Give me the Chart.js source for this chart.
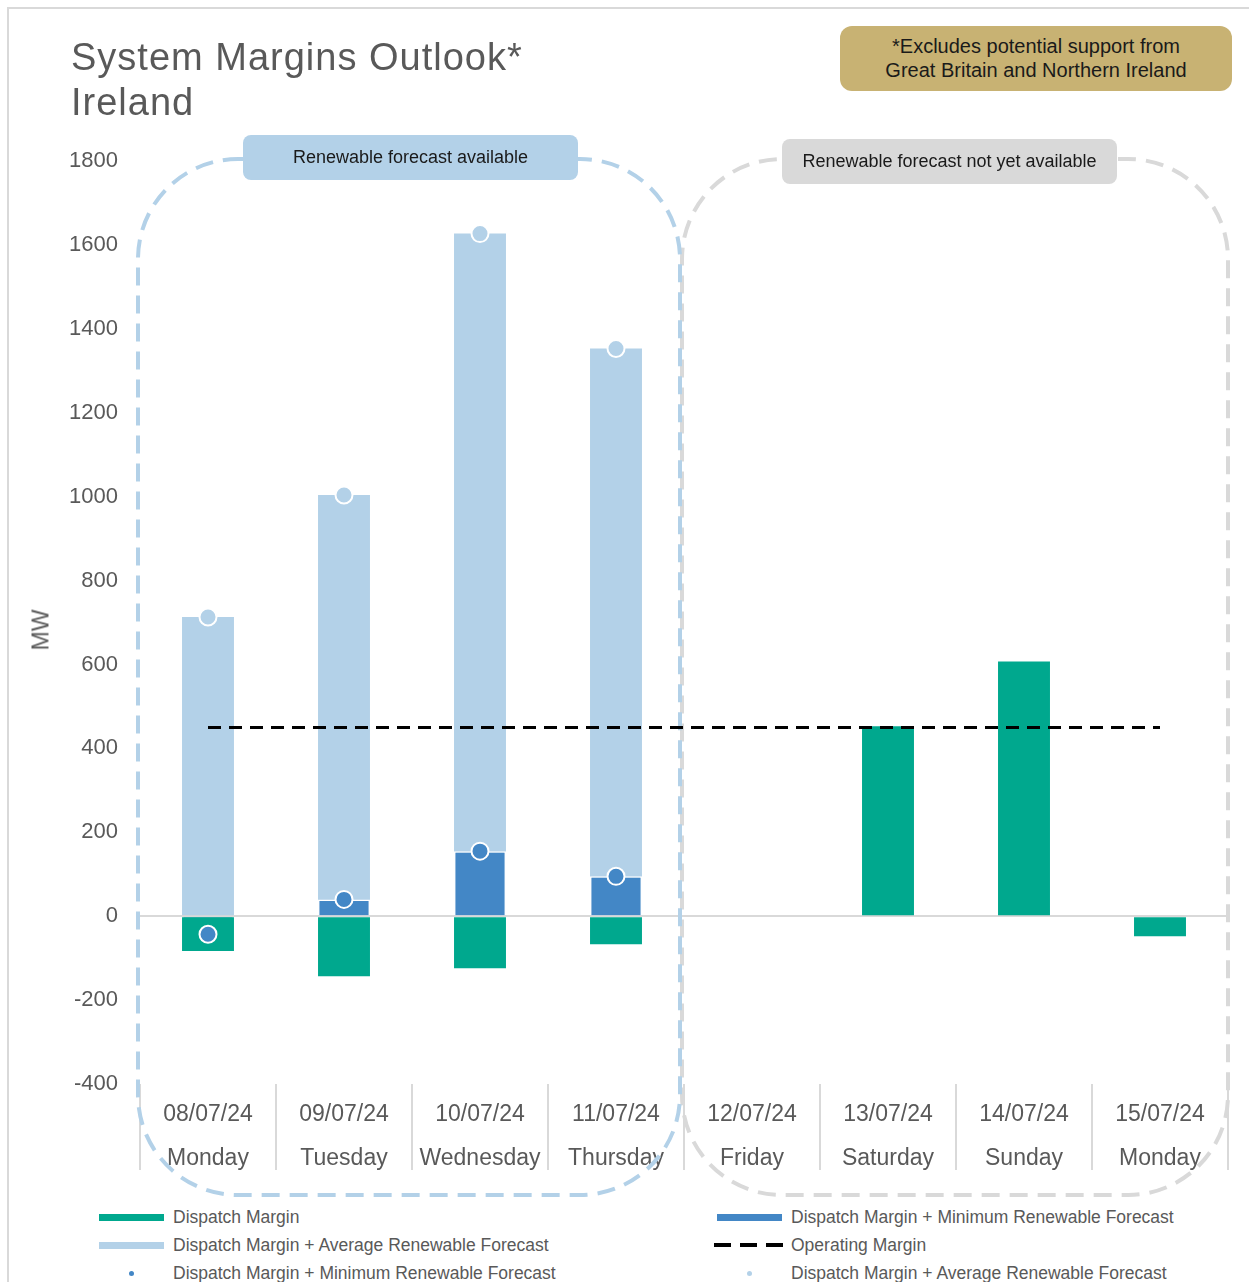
<!DOCTYPE html>
<html>
<head>
<meta charset="utf-8">
<script src="https://cdn.jsdelivr.net/npm/chart.js@4.4.1/dist/chart.umd.min.js"></script>
<style>
html,body{margin:0;padding:0;background:#fff;}
body{width:1249px;height:1282px;position:relative;overflow:hidden;font-family:"Liberation Sans",Arial,sans-serif;}
#frame{position:absolute;left:7px;top:7px;width:1400px;height:1400px;border-left:2px solid #d9d9d9;border-top:2px solid #d9d9d9;box-sizing:border-box;}
#title{position:absolute;left:71px;top:35px;font-size:38px;line-height:45px;color:#595959;letter-spacing:1px;white-space:nowrap;}
#note{position:absolute;left:840px;top:26px;width:392px;height:65px;border-radius:12px;background:#C8B273;color:#1a1a1a;font-size:20px;line-height:23.5px;text-align:center;box-sizing:border-box;padding-top:9px;}
#wrap{position:absolute;left:0;top:0;width:1249px;height:1200px;}
#ytitle{position:absolute;left:41px;top:630px;transform:translate(-50%,-50%) rotate(-90deg);font-size:23px;color:#595959;white-space:nowrap;}
.leg{position:absolute;font-size:17.5px;color:#595959;white-space:nowrap;line-height:20px;}
.sym{position:absolute;}
</style>
</head>
<body>
<div id="frame"></div>
<div id="wrap"><canvas id="c"></canvas></div>
<div id="title">System Margins Outlook*<br>Ireland</div>
<div id="note">*Excludes potential support from<br>Great Britain and Northern Ireland</div>
<div id="ytitle">MW</div>
<div id="legend"></div>
<script>
// ---- data ----
const categories = ['08/07/24','09/07/24','10/07/24','11/07/24','12/07/24','13/07/24','14/07/24','15/07/24'];
const weekdays = ['Monday','Tuesday','Wednesday','Thursday','Friday','Saturday','Sunday','Monday'];
const dispatchMargin = [-83, -143, -124, -67, null, 453, 607, -48];
const dmMinRenewable = [-43, 40, 155, 95, null, null, null, null];
const dmAvgRenewable = [713, 1004, 1627, 1353, null, null, null, null];
const operatingMargin = [450, 450, 450, 450, 450, 450, 450, 450];
const yMin = -400, yMax = 1800, yStep = 200;
const forecastAvailableCount = 4;

// ---- styles ----
const GREEN = '#00A88E';
const BLUE = '#4387C6';
const LIGHT = '#B3D1E8';
const GREY = '#D9D9D9';
const TXT = '#595959';
const FONT = '"Liberation Sans", Arial, sans-serif';

const labels = categories.map((d, i) => [d, weekdays[i]]);

function roundRectPath(ctx, l, t, r, b, rad) {
  ctx.beginPath();
  ctx.moveTo(l + rad, t);
  ctx.lineTo(r - rad, t);
  ctx.arcTo(r, t, r, t + rad, rad);
  ctx.lineTo(r, b - rad);
  ctx.arcTo(r, b, r - rad, b, rad);
  ctx.lineTo(l + rad, b);
  ctx.arcTo(l, b, l, b - rad, rad);
  ctx.lineTo(l, t + rad);
  ctx.arcTo(l, t, l + rad, t, rad);
  ctx.closePath();
}

function labelBox(ctx, cx, cy, w, h, color, text) {
  ctx.save();
  roundRectPath(ctx, cx - w / 2, cy - h / 2, cx + w / 2, cy + h / 2, 8);
  ctx.fillStyle = color;
  ctx.fill();
  ctx.fillStyle = '#1a1a1a';
  ctx.font = '18px ' + FONT;
  ctx.textAlign = 'center';
  ctx.textBaseline = 'middle';
  ctx.fillText(text, cx, cy + 1);
  ctx.restore();
}

const frames = {
  id: 'frames',
  beforeDatasetsDraw(chart) {
    const {ctx, chartArea, scales: {x, y}} = chart;
    const cw = x.getPixelForValue(1) - x.getPixelForValue(0);
    const top = y.getPixelForValue(yMax) - 2;
    const bottom = chartArea.bottom + 111;
    const rad = 100;
    const n = categories.length;
    const k = forecastAvailableCount;
    ctx.save();
    ctx.lineWidth = 4;
    ctx.setLineDash([18, 10]);
    ctx.strokeStyle = GREY;
    roundRectPath(ctx, x.getPixelForValue(k) - cw / 2 - 2, top, x.getPixelForValue(n - 1) + cw / 2, bottom, rad);
    ctx.stroke();
    ctx.strokeStyle = LIGHT;
    roundRectPath(ctx, x.getPixelForValue(0) - cw / 2 - 2, top, x.getPixelForValue(k - 1) + cw / 2 - 4, bottom, rad);
    ctx.stroke();
    ctx.restore();
    labelBox(ctx, (x.getPixelForValue(1) + x.getPixelForValue(2)) / 2 - 1.5, top - 1.5, 335, 45, LIGHT, 'Renewable forecast available');
    labelBox(ctx, (x.getPixelForValue(5) + x.getPixelForValue(6)) / 2 - 6.5, top + 2.5, 335, 45, GREY, 'Renewable forecast not yet available');
  }
};

new Chart(document.getElementById('c'), {
  type: 'bar',
  data: {
    labels: labels,
    datasets: [
      {type: 'line', label: 'Dispatch Margin + Average Renewable Forecast', data: dmAvgRenewable, showLine: false,
       pointRadius: 8.5, pointHoverRadius: 8.5, pointBackgroundColor: LIGHT, pointBorderColor: '#fff', pointBorderWidth: 2, order: 0},
      {type: 'line', label: 'Dispatch Margin + Minimum Renewable Forecast', data: dmMinRenewable, showLine: false,
       pointRadius: 8.5, pointHoverRadius: 8.5, pointBackgroundColor: BLUE, pointBorderColor: '#fff', pointBorderWidth: 2, order: 0},
      {type: 'line', label: 'Operating Margin', data: operatingMargin, borderColor: '#000', borderWidth: 3,
       borderDash: [13, 8], pointRadius: 0, fill: false, order: 1},
      {label: 'Dispatch Margin', data: dispatchMargin, backgroundColor: GREEN, grouped: false, order: 2},
      {label: 'Dispatch Margin + Minimum Renewable Forecast', data: dmMinRenewable, backgroundColor: BLUE,
       borderColor: '#fff', borderWidth: 1.5, grouped: false, order: 3},
      {label: 'Dispatch Margin + Average Renewable Forecast', data: dmAvgRenewable, backgroundColor: LIGHT, grouped: false, order: 4}
    ]
  },
  options: {
    responsive: true,
    maintainAspectRatio: false,
    animation: false,
    layout: {padding: {top: 161, left: 0, right: 21, bottom: 16}},
    plugins: {legend: {display: false}, tooltip: {enabled: false}},
    datasets: {bar: {barPercentage: 0.382, categoryPercentage: 1}},
    scales: {
      x: {
        offset: true,
        grid: {offset: true, drawOnChartArea: false, drawTicks: true, tickLength: 86, color: GREY, lineWidth: 2},
        border: {display: false},
        ticks: {padding: -78, color: TXT, font: {family: FONT, size: 23, lineHeight: 1.93}, maxRotation: 0, autoSkip: false},
        afterFit(s) { s.height = 100; }
      },
      y: {
        min: yMin, max: yMax, z: 1,
        ticks: {stepSize: yStep, padding: 22, color: TXT, font: {family: FONT, size: 22}, callback: v => String(v)},
        grid: {drawTicks: false, lineWidth: 2, color: c => (c.tick && c.tick.value === 0) ? GREY : 'rgba(0,0,0,0)'},
        border: {display: false},
        afterFit(s) { s.width = 140; }
      }
    }
  },
  plugins: [frames]
});

// ---- HTML legend ----
const legendItems = [
  {text: 'Dispatch Margin', sym: 'bar', color: GREEN, col: 0, row: 0},
  {text: 'Dispatch Margin + Minimum Renewable Forecast', sym: 'bar', color: BLUE, col: 1, row: 0},
  {text: 'Dispatch Margin + Average Renewable Forecast', sym: 'bar', color: LIGHT, col: 0, row: 1},
  {text: 'Operating Margin', sym: 'dash', color: '#000', col: 1, row: 1},
  {text: 'Dispatch Margin + Minimum Renewable Forecast', sym: 'dot', color: BLUE, col: 0, row: 2},
  {text: 'Dispatch Margin + Average Renewable Forecast', sym: 'dot', color: LIGHT, col: 1, row: 2}
];
const legendEl = document.getElementById('legend');
const colSym = [99, 717], colText = [173, 791], rowY = [1217, 1245, 1273];
legendItems.forEach(it => {
  const s = document.createElement('div');
  s.className = 'sym';
  const cy = rowY[it.row];
  if (it.sym === 'bar') {
    s.style.cssText = `left:${colSym[it.col]}px;top:${cy - 3.5}px;width:65px;height:7px;background:${it.color};`;
  } else if (it.sym === 'dash') {
    s.style.cssText = `left:${colSym[it.col] - 3}px;top:${cy - 2}px;width:70px;height:4px;background:repeating-linear-gradient(to right,#000 0 17px,transparent 17px 26px);`;
  } else {
    s.style.cssText = `left:${colSym[it.col] + 30}px;top:${cy - 2.5}px;width:5px;height:5px;border-radius:50%;background:${it.color};`;
  }
  legendEl.appendChild(s);
  const t = document.createElement('div');
  t.className = 'leg';
  t.textContent = it.text;
  t.style.left = colText[it.col] + 'px';
  t.style.top = (cy - 10) + 'px';
  legendEl.appendChild(t);
});
</script>
</body>
</html>
